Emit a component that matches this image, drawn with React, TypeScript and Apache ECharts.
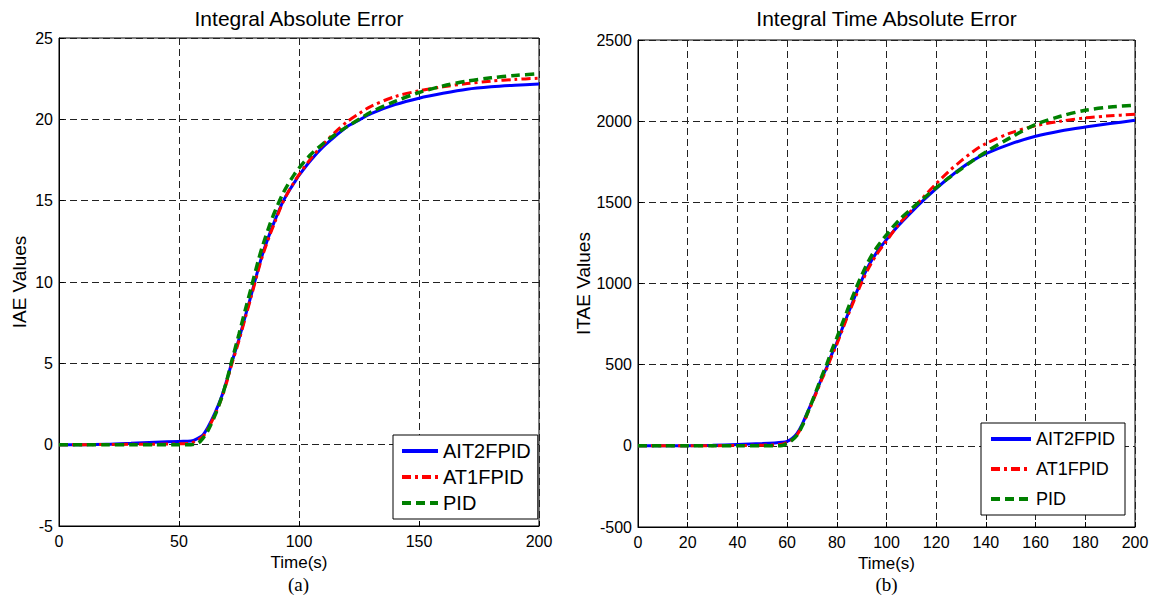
import React, { useEffect, useRef } from 'react';
import * as echarts from 'echarts';

const seriesNames = ['AIT2FPID', 'AT1FPID', 'PID'];

// IAE chart (a)
const iaeTime = [0, 10, 20, 30, 40, 50, 55, 58, 60, 62, 65, 68, 70, 72, 75, 78, 80, 83, 85, 88, 90, 93, 95, 98, 100, 105, 110, 115, 120, 125, 130, 140, 150, 160, 170, 180, 190, 200];
const iaeAIT2 = [0, 0, 0.02, 0.08, 0.15, 0.2, 0.22, 0.4, 0.6, 1.05, 1.95, 3.05, 4.0, 5.05, 6.5, 8.1, 9.15, 10.8, 11.8, 13.05, 13.8, 14.85, 15.4, 16.1, 16.55, 17.5, 18.3, 18.95, 19.55, 19.95, 20.35, 20.9, 21.3, 21.6, 21.85, 22.0, 22.1, 22.17];
const iaeAT1 = [0, 0, 0.01, 0.02, 0.03, 0.05, 0.1, 0.3, 0.5, 0.95, 1.85, 2.95, 3.9, 4.95, 6.4, 8.0, 9.05, 10.7, 11.7, 12.95, 13.7, 14.8, 15.4, 16.15, 16.6, 17.6, 18.45, 19.2, 19.85, 20.35, 20.8, 21.4, 21.75, 22.0, 22.2, 22.35, 22.45, 22.53];
const iaePID = [0, 0, 0, 0, 0, 0, 0, 0.1, 0.4, 0.85, 1.8, 3.0, 4.0, 5.15, 6.8, 8.5, 9.6, 11.3, 12.3, 13.6, 14.35, 15.35, 15.9, 16.6, 17.0, 17.85, 18.5, 19.05, 19.55, 20.0, 20.45, 21.1, 21.65, 22.05, 22.35, 22.55, 22.7, 22.8];

// ITAE chart (b)
const itaeTime = [0, 10, 20, 30, 40, 50, 55, 58, 60, 62, 64, 66, 68, 70, 72, 74, 76, 78, 80, 82, 84, 86, 88, 90, 93, 96, 100, 105, 110, 115, 120, 125, 130, 135, 140, 150, 160, 170, 180, 190, 200];
const itaeAIT2 = [0, 0, 1, 3, 8, 14, 18, 22, 28, 45, 76, 130, 200, 270, 343, 420, 485, 565, 635, 715, 794, 870, 948, 1020, 1115, 1190, 1270, 1360, 1440, 1515, 1585, 1650, 1710, 1760, 1800, 1860, 1907, 1940, 1964, 1985, 2005];
const itaeAT1 = [0, 0, 0, 1, 2, 4, 6, 10, 22, 38, 68, 120, 190, 262, 335, 410, 478, 555, 625, 705, 785, 860, 935, 1005, 1100, 1178, 1262, 1365, 1450, 1535, 1615, 1690, 1755, 1815, 1862, 1928, 1972, 2000, 2020, 2033, 2042];
const itaePID = [0, 0, 0, 0, 0, 0, 0, 2, 15, 35, 65, 120, 195, 270, 350, 430, 505, 590, 665, 745, 825, 905, 980, 1050, 1145, 1220, 1300, 1390, 1460, 1525, 1590, 1650, 1705, 1760, 1810, 1900, 1979, 2030, 2067, 2087, 2098];

const titles = ['Integral Absolute Error', 'Integral Time Absolute Error'];
const yNames = ['IAE Values', 'ITAE Values'];
const xName = 'Time(s)';
const captions = ['(a)', '(b)'];

const colors = ['#0000ff', '#ff0000', '#008000'];
const dashTypes: any[] = ['solid', [9, 4, 3, 4], [9, 5]];

const zip = (t: number[], v: number[]) => t.map((x, i) => [x, v[i]]);

export default function App() {
  const ref = useRef<HTMLDivElement>(null);
  useEffect(() => {
    if (!ref.current) return;
    const chart = echarts.init(ref.current, null, { renderer: 'svg' });
    const font = 'Arial, "Liberation Sans", Helvetica, sans-serif';
    const grids = [
      { left: 59, top: 38, width: 480, height: 488 },
      { left: 638, top: 40, width: 497, height: 487 },
    ];
    const centers = [59 + 240, 638 + 248.5];
    const axisCommon = {
      axisLine: { show: true, onZero: false, lineStyle: { color: '#000', width: 1 } },
      axisTick: { show: true, inside: true, length: 5, lineStyle: { color: '#000' } },
      axisLabel: { color: '#000', fontSize: 16, fontFamily: font, formatter: (v: number) => String(v) },
      splitLine: { show: true, lineStyle: { color: '#222', type: [7, 4], width: 1 } },
    };
    const xAxes = [
      { gridIndex: 0, type: 'value', min: 0, max: 200, interval: 50 },
      { gridIndex: 1, type: 'value', min: 0, max: 200, interval: 20 },
    ].map((a) => ({
      ...a,
      ...axisCommon,
      axisLabel: { ...axisCommon.axisLabel, margin: 7 },
      name: xName,
      nameLocation: 'middle',
      nameGap: 24,
      nameTextStyle: { color: '#000', fontSize: 17, fontFamily: font },
    }));
    const yAxes = [
      { gridIndex: 0, type: 'value', min: -5, max: 25, interval: 5, name: yNames[0], nameGap: 30 },
      { gridIndex: 1, type: 'value', min: -500, max: 2500, interval: 500, name: yNames[1], nameGap: 39 },
    ].map((a) => ({
      ...a,
      ...axisCommon,
      axisLabel: { ...axisCommon.axisLabel, margin: 6 },
      nameLocation: 'middle',
      nameRotate: 90,
      nameTextStyle: { color: '#000', fontSize: 19, fontFamily: font },
    }));
    const datasets = [
      [iaeAIT2, iaeAT1, iaePID],
      [itaeAIT2, itaeAT1, itaePID],
    ];
    const times = [iaeTime, itaeTime];
    const series: any[] = [];
    datasets.forEach((ds, gi) => {
      ds.forEach((vals, si) => {
        series.push({
          type: 'line',
          name: seriesNames[si],
          xAxisIndex: gi,
          yAxisIndex: gi,
          data: zip(times[gi], vals),
          showSymbol: false,
          symbol: 'none',
          smooth: 0.3,
          color: colors[si],
          lineStyle: { color: colors[si], width: si === 2 ? 3.5 : 3, type: dashTypes[si] },
          z: 2 + si,
        });
      });
    });
    const legendCommon = {
      orient: 'vertical',
      data: seriesNames,
      backgroundColor: '#fff',
      borderColor: '#000',
      borderWidth: 1,
      borderRadius: 0,
      selectedMode: false,
      itemStyle: { opacity: 0 },
      lineStyle: { width: 4 },
    };
    chart.setOption({
      animation: false,
      backgroundColor: '#fff',
      title: titles.map((t, i) => ({
        text: t,
        left: centers[i],
        top: 8,
        textAlign: 'center',
        padding: 0,
        textStyle: { color: '#000', fontSize: 21, fontWeight: 'normal', fontFamily: font },
      })),
      grid: grids.map((g) => ({ ...g, show: true, borderColor: '#000', borderWidth: 1, backgroundColor: 'transparent' })),
      xAxis: xAxes,
      yAxis: yAxes,
      legend: [
        {
          ...legendCommon,
          left: 393,
          top: 435,
          padding: [6, 7, 6, 7],
          itemWidth: 36,
          itemHeight: 14,
          itemGap: 6,
          textStyle: { color: '#000', fontSize: 20, fontFamily: font },
        },
        {
          ...legendCommon,
          left: 981,
          top: 423,
          padding: [7, 10, 7, 8],
          itemWidth: 40,
          itemHeight: 14,
          itemGap: 12,
          textStyle: { color: '#000', fontSize: 18, fontFamily: font },
        },
      ],
      graphic: captions.map((c, i) => ({
        type: 'text',
        left: centers[i] - 11,
        top: 575,
        style: { text: c, fill: '#000', fontSize: 19, fontFamily: '"Liberation Serif", "Times New Roman", serif' },
      })),
      series,
    });
    return () => chart.dispose();
  }, []);
  return <div ref={ref} style={{ position: 'fixed', left: 0, top: 0, width: 1156, height: 603 }} />;
}
